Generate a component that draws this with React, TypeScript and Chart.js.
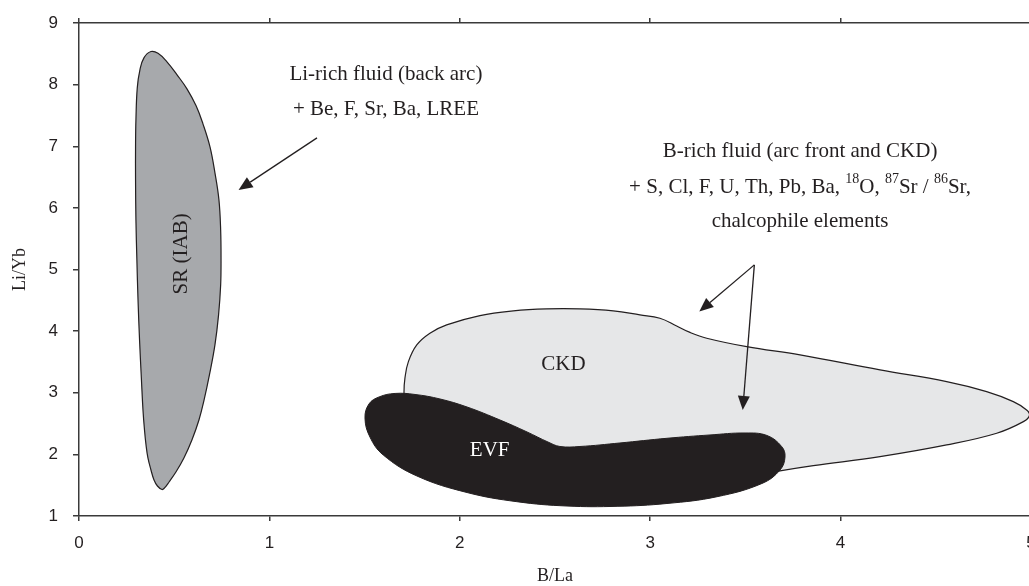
import React, { useEffect, useRef } from 'react';
import { Chart, registerables } from 'chart.js';

Chart.register(...registerables);

// ---- axes ----
const X_TICKS = [0, 1, 2, 3, 4, 5];
const Y_TICKS = [1, 2, 3, 4, 5, 6, 7, 8, 9];
const X_TITLE = 'B/La';
const Y_TITLE = 'Li/Yb';

// ---- field outlines (B/La, Li/Yb) ----
const SR_FIELD: number[][] = [
  [0.378, 8.537], [0.415, 8.508], [0.462, 8.370], [0.515, 8.159], [0.567, 7.932],
  [0.615, 7.656], [0.651, 7.364], [0.688, 6.990], [0.714, 6.568], [0.735, 6.130],
  [0.744, 5.643], [0.746, 5.156], [0.744, 4.750], [0.733, 4.263], [0.714, 3.776],
  [0.685, 3.289], [0.657, 2.883], [0.630, 2.558], [0.593, 2.234], [0.551, 1.942],
  [0.509, 1.714], [0.473, 1.552], [0.449, 1.455], [0.436, 1.430], [0.412, 1.487],
  [0.394, 1.584], [0.378, 1.747], [0.362, 1.942], [0.352, 2.153], [0.344, 2.396],
  [0.336, 2.721], [0.328, 3.208], [0.318, 3.857], [0.310, 4.506], [0.304, 5.156],
  [0.299, 5.805], [0.297, 6.455], [0.297, 6.990], [0.299, 7.429], [0.306, 7.948],
  [0.320, 8.240], [0.341, 8.435],
];

const CKD_FIELD: number[][] = [
  [1.707, 3.013], [1.712, 3.240], [1.730, 3.505], [1.774, 3.776], [1.843, 3.966],
  [1.931, 4.101], [2.106, 4.252], [2.281, 4.328], [2.456, 4.360], [2.631, 4.360],
  [2.806, 4.328], [2.946, 4.263], [3.051, 4.209], [3.139, 4.084], [3.209, 3.979],
  [3.297, 3.885], [3.507, 3.748], [3.787, 3.614], [4.207, 3.370], [4.557, 3.180],
  [4.767, 3.018], [4.907, 2.856], [4.977, 2.721], [4.992, 2.631], [4.960, 2.531],
  [4.820, 2.343], [4.557, 2.153], [4.207, 1.963], [3.857, 1.817], [3.697, 1.739],
  [3.577, 1.666], [3.262, 1.584], [2.736, 1.584], [2.316, 1.747], [2.001, 2.153],
  [1.791, 2.558], [1.712, 2.883],
];

const EVF_FIELD: number[][] = [
  [1.502, 2.591], [1.523, 2.818], [1.576, 2.932], [1.660, 2.989], [1.765, 2.972],
  [1.896, 2.899], [2.038, 2.769], [2.211, 2.558], [2.353, 2.364], [2.463, 2.201],
  [2.526, 2.128], [2.631, 2.128], [2.841, 2.185], [3.088, 2.261], [3.314, 2.315],
  [3.498, 2.347], [3.613, 2.307], [3.691, 2.125], [3.708, 1.958], [3.682, 1.747],
  [3.587, 1.528], [3.351, 1.313], [3.088, 1.203], [2.826, 1.157], [2.563, 1.162],
  [2.300, 1.232], [2.038, 1.381], [1.775, 1.649], [1.598, 1.990], [1.528, 2.282],
];

// ---- field labels ----
const FIELD_LABELS = ['SR (IAB)', 'CKD', 'EVF'];
const FIELD_LABEL_X = [0.536, 2.544, 2.157];
const FIELD_LABEL_Y = [5.253, 3.451, 2.060];
const FIELD_LABEL_COLOR = ['#231f20', '#231f20', '#ffffff'];
const FIELD_LABEL_ROTATED = [true, false, false];

// ---- annotations ----
const LI_LINES = ['Li-rich fluid (back arc)', '+ Be, F, Sr, Ba, LREE'];
const LI_X = 1.612;
const LI_Y = [8.159, 7.591];

const B_LINE1 = 'B-rich fluid (arc front and CKD)';
const B_LINE2: [string, boolean][] = [
  ['+ S, Cl, F, U, Th, Pb, Ba, ', false],
  ['18', true],
  ['O, ', false],
  ['87', true],
  ['Sr / ', false],
  ['86', true],
  ['Sr,', false],
];
const B_LINE3 = 'chalcophile elements';
const B_X = 3.787;
const B_Y = [6.914, 6.333, 5.778];

const ARROW_FROM_X = [1.250, 3.547, 3.547];
const ARROW_FROM_Y = [7.136, 5.075, 5.075];
const ARROW_TO_X = [0.838, 3.258, 3.486];
const ARROW_TO_Y = [6.292, 4.317, 2.721];

const INK = '#231f20';
const AXIS = '#3a3a3a';
const SERIF = '"Liberation Serif", "Times New Roman", serif';
const SANS = '"Liberation Sans", Arial, sans-serif';

const toXY = (pts: number[][]) => pts.map(([x, y]) => ({ x, y }));

const closeLoops = {
  id: 'closeLoops',
  afterDatasetUpdate(chart: any, args: any) {
    const meta = chart.getDatasetMeta(args.index);
    if (meta && meta.dataset) {
      meta.dataset._loop = true;
      meta.dataset._fullLoop = true;
    }
  },
};

const annotations = {
  id: 'annotations',
  afterDatasetsDraw(chart: any) {
    const { ctx, scales } = chart;
    const xs = scales.x;
    const ys = scales.y;
    const px = (v: number) => xs.getPixelForValue(v);
    const py = (v: number) => ys.getPixelForValue(v);
    ctx.save();

    // field labels
    ctx.font = `21px ${SERIF}`;
    ctx.textAlign = 'center';
    ctx.textBaseline = 'middle';
    FIELD_LABELS.forEach((t, i) => {
      ctx.fillStyle = FIELD_LABEL_COLOR[i];
      const x = px(FIELD_LABEL_X[i]);
      const y = py(FIELD_LABEL_Y[i]);
      if (FIELD_LABEL_ROTATED[i]) {
        ctx.save();
        ctx.translate(x, y);
        ctx.rotate(-Math.PI / 2);
        ctx.fillText(t, 0, 0);
        ctx.restore();
      } else {
        ctx.fillText(t, x, y);
      }
    });

    // text annotations
    ctx.fillStyle = INK;
    ctx.font = `21px ${SERIF}`;
    LI_LINES.forEach((t, i) => ctx.fillText(t, px(LI_X), py(LI_Y[i])));
    ctx.fillText(B_LINE1, px(B_X), py(B_Y[0]));
    ctx.fillText(B_LINE3, px(B_X), py(B_Y[2]));

    // line with superscripts
    const mainFont = `21px ${SERIF}`;
    const supFont = `14px ${SERIF}`;
    let total = 0;
    const widths = B_LINE2.map(([t, sup]) => {
      ctx.font = sup ? supFont : mainFont;
      const w = ctx.measureText(t).width;
      total += w;
      return w;
    });
    let cx = px(B_X) - total / 2;
    const cy = py(B_Y[1]);
    ctx.textAlign = 'left';
    B_LINE2.forEach(([t, sup], i) => {
      ctx.font = sup ? supFont : mainFont;
      ctx.fillText(t, cx, sup ? cy - 8 : cy);
      cx += widths[i];
    });

    // arrows
    ctx.strokeStyle = INK;
    ctx.fillStyle = INK;
    ctx.lineWidth = 1.3;
    ARROW_FROM_X.forEach((_, i) => {
      const x1 = px(ARROW_FROM_X[i]);
      const y1 = py(ARROW_FROM_Y[i]);
      const x2 = px(ARROW_TO_X[i]);
      const y2 = py(ARROW_TO_Y[i]);
      const a = Math.atan2(y2 - y1, x2 - x1);
      const headLen = 14;
      const headHalf = 6;
      const bx = x2 - headLen * Math.cos(a);
      const by = y2 - headLen * Math.sin(a);
      ctx.beginPath();
      ctx.moveTo(x1, y1);
      ctx.lineTo(bx, by);
      ctx.stroke();
      ctx.beginPath();
      ctx.moveTo(x2, y2);
      ctx.lineTo(bx + headHalf * Math.sin(a), by - headHalf * Math.cos(a));
      ctx.lineTo(bx - headHalf * Math.sin(a), by + headHalf * Math.cos(a));
      ctx.closePath();
      ctx.fill();
    });

    ctx.restore();
  },
};

export default function App() {
  const ref = useRef<HTMLCanvasElement>(null);

  useEffect(() => {
    if (!ref.current) return;
    const tickFont = { family: SANS, size: 17 };
    const chart = new Chart(ref.current, {
      type: 'line',
      data: {
        datasets: [
          {
            label: 'EVF',
            data: toXY(EVF_FIELD),
            borderColor: INK,
            backgroundColor: INK,
            borderWidth: 1,
            fill: 'shape',
            tension: 0.4,
            spanGaps: true,
            pointRadius: 0,
          },
          {
            label: 'CKD',
            data: toXY(CKD_FIELD),
            borderColor: INK,
            backgroundColor: '#e6e7e8',
            borderWidth: 1.2,
            fill: 'shape',
            tension: 0.4,
            spanGaps: true,
            pointRadius: 0,
          },
          {
            label: 'SR (IAB)',
            data: toXY(SR_FIELD),
            borderColor: INK,
            backgroundColor: '#a7a9ac',
            borderWidth: 1.2,
            fill: 'shape',
            tension: 0.4,
            spanGaps: true,
            pointRadius: 0,
          },
        ] as any,
      },
      options: {
        responsive: false,
        devicePixelRatio: 1,
        animation: false,
        layout: { padding: { top: 23, right: 9, bottom: 0, left: 0 } },
        plugins: {
          legend: { display: false },
          tooltip: { enabled: false },
        },
        scales: {
          x: {
            type: 'linear',
            position: 'bottom',
            min: 0,
            max: 5,
            afterBuildTicks: (s: any) => {
              s.ticks = X_TICKS.map((v) => ({ value: v }));
            },
            afterFit: (s: any) => {
              s.height = 70;
              s.paddingLeft = 0;
              s.paddingRight = 0;
            },
            ticks: { font: tickFont, color: INK, padding: 12, maxRotation: 0, autoSkip: false },
            grid: { drawOnChartArea: false, drawTicks: true, tickLength: 5, color: AXIS, lineWidth: 1.5 },
            border: { display: true, color: AXIS, width: 1.5 },
            title: {
              display: true,
              text: X_TITLE,
              color: INK,
              font: { family: SERIF, size: 18 },
              padding: { top: 0, bottom: -1 },
            },
          },
          xTop: {
            type: 'linear',
            position: 'top',
            min: 0,
            max: 5,
            afterBuildTicks: (s: any) => {
              s.ticks = X_TICKS.map((v) => ({ value: v }));
            },
            afterFit: (s: any) => {
              s.height = 0;
              s.paddingLeft = 0;
              s.paddingRight = 0;
            },
            ticks: { display: false },
            grid: { drawOnChartArea: false, drawTicks: true, tickLength: 5, color: AXIS, lineWidth: 1.5 },
            border: { display: true, color: AXIS, width: 1.5 },
          },
          y: {
            type: 'linear',
            position: 'left',
            min: 1,
            max: 9,
            afterBuildTicks: (s: any) => {
              s.ticks = Y_TICKS.map((v) => ({ value: v }));
            },
            afterFit: (s: any) => {
              s.width = 79;
              s.paddingTop = 0;
              s.paddingBottom = 0;
            },
            ticks: { font: tickFont, color: INK, padding: 15 },
            grid: { drawOnChartArea: false, drawTicks: true, tickLength: 6, color: AXIS, lineWidth: 1.5 },
            border: { display: true, color: AXIS, width: 1.5 },
            title: {
              display: true,
              text: Y_TITLE,
              color: INK,
              font: { family: SERIF, size: 18 },
              padding: { top: 9, bottom: 0 },
            },
          },
        } as any,
      },
      plugins: [closeLoops, annotations],
    });
    return () => chart.destroy();
  }, []);

  return (
    <div
      style={{
        position: 'absolute',
        left: 0,
        top: 0,
        width: 1029,
        height: 586,
        overflow: 'hidden',
        background: '#ffffff',
      }}
    >
      <canvas ref={ref} width={1040} height={586} style={{ display: 'block', width: 1040, height: 586 }} />
    </div>
  );
}
